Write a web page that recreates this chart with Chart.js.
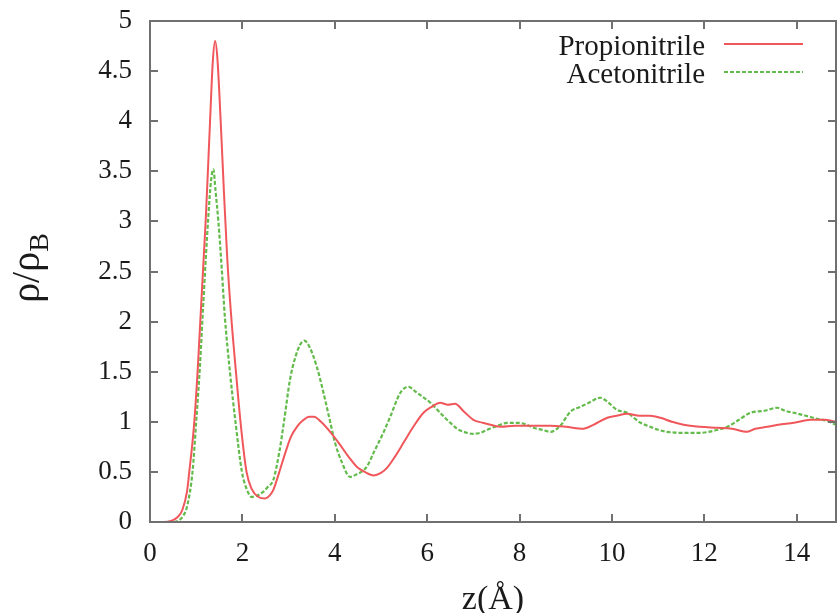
<!DOCTYPE html>
<html>
<head>
<meta charset="utf-8">
<script src="https://cdn.jsdelivr.net/npm/chart.js@4"></script>
<style>
  html, body { margin: 0; padding: 0; background: #fff; }
  #wrap { width: 838px; height: 613px; }
</style>
</head>
<body>
<div id="wrap"><canvas id="densityChart" width="838" height="613"></canvas></div>
<script>
// z (Å) and rho/rho_B
const propZ = [0, 0.3, 0.45, 0.6, 0.7, 0.8, 0.85, 0.95, 1.03, 1.1, 1.16, 1.21, 1.3, 1.36, 1.41, 1.46, 1.53, 1.6, 1.67, 1.75, 1.86, 1.97, 2.09, 2.2, 2.35, 2.49, 2.6, 2.67, 2.8, 2.95, 3.05, 3.18, 3.3, 3.45, 3.55, 3.7, 3.9, 4.1, 4.3, 4.48, 4.65, 4.84, 5.0, 5.13, 5.3, 5.5, 5.7, 5.92, 6.1, 6.28, 6.45, 6.6, 6.8, 7.0, 7.2, 7.37, 7.6, 7.9, 8.2, 8.67, 9.0, 9.38, 9.6, 9.9, 10.1, 10.33, 10.6, 10.83, 11.05, 11.3, 11.55, 11.9, 12.28, 12.6, 12.93, 13.1, 13.36, 13.6, 13.94, 14.3, 14.6, 14.85];
const propRho = [0, 0, 0.01, 0.05, 0.12, 0.3, 0.5, 0.95, 1.5, 2.1, 2.62, 3.05, 4.0, 4.6, 4.8, 4.62, 4.0, 3.3, 2.65, 2.1, 1.5, 0.95, 0.5, 0.33, 0.25, 0.235, 0.27, 0.32, 0.5, 0.72, 0.85, 0.95, 1.01, 1.05, 1.05, 1.0, 0.9, 0.78, 0.65, 0.55, 0.5, 0.465, 0.49, 0.54, 0.65, 0.8, 0.95, 1.09, 1.15, 1.19, 1.17, 1.18, 1.1, 1.02, 0.99, 0.97, 0.95, 0.96, 0.96, 0.96, 0.95, 0.93, 0.97, 1.04, 1.06, 1.08, 1.06, 1.06, 1.04, 1.0, 0.97, 0.95, 0.94, 0.93, 0.9, 0.93, 0.95, 0.97, 0.99, 1.02, 1.02, 1.0];

const acetZ = [0, 0.5, 0.6, 0.7, 0.8, 0.92, 1.0, 1.08, 1.15, 1.21, 1.27, 1.32, 1.37, 1.42, 1.48, 1.55, 1.62, 1.73, 1.85, 1.99, 2.1, 2.2, 2.3, 2.45, 2.55, 2.67, 2.8, 2.9, 3.03, 3.15, 3.25, 3.34, 3.45, 3.61, 3.75, 3.9, 4.0, 4.15, 4.33, 4.45, 4.69, 4.85, 5.05, 5.2, 5.42, 5.59, 5.75, 5.9, 6.07, 6.3, 6.5, 6.65, 6.79, 7.0, 7.15, 7.35, 7.58, 7.73, 7.94, 8.1, 8.3, 8.5, 8.67, 8.88, 9.1, 9.32, 9.5, 9.75, 9.9, 10.11, 10.33, 10.62, 10.83, 11.0, 11.19, 11.5, 11.92, 12.2, 12.5, 12.75, 13.0, 13.3, 13.58, 13.75, 13.94, 14.2, 14.44, 14.65, 14.85];
const acetRho = [0, 0, 0.01, 0.05, 0.15, 0.5, 1.0, 1.55, 2.15, 2.65, 3.1, 3.4, 3.52, 3.3, 3.0, 2.55, 2.05, 1.5, 1.0, 0.5, 0.32, 0.25, 0.26, 0.3, 0.35, 0.42, 0.7, 1.0, 1.42, 1.65, 1.77, 1.81, 1.75, 1.55, 1.3, 1.0, 0.8, 0.6, 0.45, 0.47, 0.55, 0.7, 0.89, 1.05, 1.29, 1.35, 1.3, 1.25, 1.19, 1.08, 0.99, 0.93, 0.9, 0.88, 0.89, 0.93, 0.97, 0.99, 0.99, 0.98, 0.94, 0.92, 0.9, 0.96, 1.1, 1.15, 1.19, 1.24, 1.2, 1.12, 1.09, 0.99, 0.95, 0.92, 0.9, 0.89, 0.89, 0.91, 0.95, 1.02, 1.09, 1.11, 1.14, 1.11, 1.09, 1.06, 1.03, 1.01, 0.97];

const seriesNames = ["Propionitrile", "Acetonitrile"];
const xTickValues = [0, 2, 4, 6, 8, 10, 12, 14];

const SERIF = "'Liberation Serif', 'DejaVu Serif', serif";
const RED = "#f0575b";
const GREEN = "#62bb4a";

function toPoints(xs, ys) {
  return xs.map((x, i) => ({ x: x, y: ys[i] }));
}

// gnuplot-like frame with inward ticks on all four sides
const framePlugin = {
  id: "frame",
  afterDatasetsDraw(chart) {
    const { ctx, chartArea: a, scales } = chart;
    ctx.save();
    ctx.strokeStyle = "#707070";
    ctx.lineWidth = 2;
    ctx.strokeRect(a.left, a.top, a.right - a.left, a.bottom - a.top);
    const len = 8;
    ctx.beginPath();
    scales.x.ticks.forEach((t) => {
      const px = Math.round(scales.x.getPixelForValue(t.value));
      if (px <= a.left + 1 || px >= a.right - 1) return;
      ctx.moveTo(px, a.bottom);
      ctx.lineTo(px, a.bottom - len);
      ctx.moveTo(px, a.top);
      ctx.lineTo(px, a.top + len);
    });
    scales.y.ticks.forEach((t) => {
      const py = Math.round(scales.y.getPixelForValue(t.value));
      if (py <= a.top + 1 || py >= a.bottom - 1) return;
      ctx.moveTo(a.left, py);
      ctx.lineTo(a.left + len, py);
      ctx.moveTo(a.right, py);
      ctx.lineTo(a.right - len, py);
    });
    ctx.stroke();
    ctx.restore();
  },
};

// legend (text right aligned, line sample after it) and axis titles
const labelsPlugin = {
  id: "labels",
  afterDraw(chart) {
    const { ctx, chartArea: a } = chart;
    ctx.save();
    ctx.fillStyle = "#1a1a1a";
    ctx.font = "29px " + SERIF;
    ctx.textAlign = "right";
    ctx.textBaseline = "alphabetic";
    const rows = [55, 83];
    chart.data.datasets.forEach((ds, i) => {
      ctx.fillText(ds.label, 705, rows[i]);
      ctx.beginPath();
      ctx.strokeStyle = ds.borderColor;
      ctx.lineWidth = 2;
      ctx.setLineDash(ds.borderDash || []);
      ctx.moveTo(724, rows[i] - 11);
      ctx.lineTo(803, rows[i] - 11);
      ctx.stroke();
    });
    ctx.setLineDash([]);

    // x title
    ctx.textAlign = "center";
    ctx.font = "34px " + SERIF;
    ctx.fillText("z(Å)", (a.left + a.right) / 2, 609);

    // y title: rho/rho_B, rotated
    ctx.translate(39, 268);
    ctx.rotate(-Math.PI / 2);
    ctx.textAlign = "left";
    ctx.font = "40px " + SERIF;
    const main = "ρ/ρ";
    const w1 = ctx.measureText(main).width;
    ctx.font = "28px " + SERIF;
    const w2 = ctx.measureText("B").width;
    const start = -(w1 + w2) / 2;
    ctx.font = "40px " + SERIF;
    ctx.fillText(main, start, 0);
    ctx.font = "28px " + SERIF;
    ctx.fillText("B", start + w1, 9);
    ctx.restore();
  },
};

document.addEventListener("DOMContentLoaded", function () {
  const ctx = document.getElementById("densityChart").getContext("2d");

  new Chart(ctx, {
    type: "line",
    data: {
      datasets: [
        {
          label: seriesNames[0],
          data: toPoints(propZ, propRho),
          borderColor: RED,
          borderWidth: 2,
          pointRadius: 0,
          cubicInterpolationMode: "monotone",
          fill: false,
        },
        {
          label: seriesNames[1],
          data: toPoints(acetZ, acetRho),
          borderColor: GREEN,
          borderWidth: 2.2,
          borderDash: [4, 2],
          pointRadius: 0,
          cubicInterpolationMode: "monotone",
          fill: false,
        },
      ],
    },
    options: {
      responsive: false,
      animation: false,
      events: [],
      layout: { padding: { top: 21, right: 2, left: 0, bottom: 0 } },
      plugins: {
        legend: { display: false },
        tooltip: { enabled: false },
      },
      scales: {
        x: {
          type: "linear",
          min: 0,
          max: 14.85,
          grid: { display: false, drawTicks: false },
          border: { display: false },
          afterBuildTicks(scale) {
            scale.ticks = xTickValues.map((v) => ({ value: v }));
          },
          afterFit(scale) {
            scale.height = 91;
            scale.paddingLeft = 0;
            scale.paddingRight = 0;
          },
          ticks: {
            font: { family: SERIF, size: 27 },
            color: "#1a1a1a",
            padding: 16,
            maxRotation: 0,
            autoSkip: false,
          },
        },
        y: {
          min: 0,
          max: 5,
          grid: { display: false, drawTicks: false },
          border: { display: false },
          afterFit(scale) {
            scale.width = 150;
            scale.paddingTop = 0;
            scale.paddingBottom = 0;
          },
          ticks: {
            stepSize: 0.5,
            font: { family: SERIF, size: 27 },
            color: "#1a1a1a",
            padding: 18,
            callback: (value) => String(Number(value)),
          },
        },
      },
    },
    plugins: [framePlugin, labelsPlugin],
  });
});
</script>
</body>
</html>
